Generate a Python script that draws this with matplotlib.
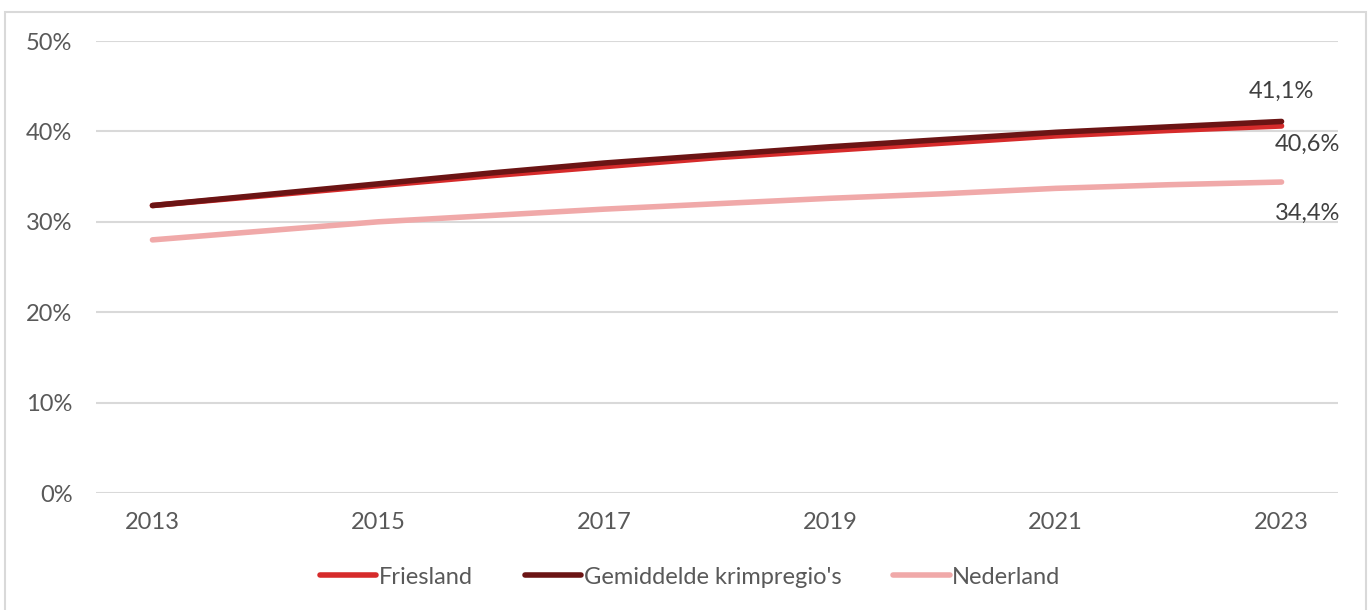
import matplotlib.pyplot as plt
from matplotlib.patches import Rectangle

# Data
jaren = list(range(2013, 2024))
friesland = [31.8, 32.9, 34.0, 35.1, 36.1, 37.1, 37.9, 38.7, 39.5, 40.1, 40.6]
krimp = [31.8, 33.0, 34.2, 35.4, 36.5, 37.4, 38.3, 39.1, 39.9, 40.5, 41.1]
nederland = [28.0, 29.0, 30.0, 30.7, 31.4, 32.0, 32.6, 33.1, 33.7, 34.1, 34.4]
reeksen = ["Friesland", "Gemiddelde krimpregio's", "Nederland"]
kleuren = ["#D62B2B", "#6B1414", "#F0A9A9"]

plt.rcParams['font.family'] = ['Lato', 'DejaVu Sans']
grijs = "#595959"
fs = 17

fig = plt.figure(figsize=(13.7, 6.1), dpi=100)
ax = fig.add_axes([96/1370, 1 - 493/610, (1338 - 96)/1370, (493 - 41)/610])

for naam, waarden, kleur in zip(reeksen, [friesland, krimp, nederland], kleuren):
    ax.plot(jaren, [v / 100 for v in waarden], color=kleur, lw=4,
            solid_capstyle="round", label=naam, zorder=3)

ax.set_xlim(2012.5, 2023.5)
ax.set_ylim(0, 0.5)
ax.set_yticks([0, 0.1, 0.2, 0.3, 0.4, 0.5])
ax.set_yticklabels(["0%", "10%", "20%", "30%", "40%", "50%"])
ax.set_xticks(jaren[::2])
ax.grid(axis="y", color="#D9D9D9", lw=1.5)
ax.set_axisbelow(True)
for s in ax.spines.values():
    s.set_visible(False)
ax.tick_params(length=0, labelsize=fs, colors=grijs)
ax.tick_params(axis="y", pad=17)
ax.tick_params(axis="x", pad=14)

# Labels bij het laatste jaar
ax.annotate("41,1%", (jaren[-1], krimp[-1] / 100), xytext=(0, 14),
            textcoords="offset points", ha="center", va="bottom",
            fontsize=fs, color="#404040")
ax.annotate("40,6%", (jaren[-1], friesland[-1] / 100), xytext=(-5, -6),
            textcoords="offset points", ha="left", va="top",
            fontsize=fs, color="#404040")
ax.annotate("34,4%", (jaren[-1], nederland[-1] / 100), xytext=(-5, -15),
            textcoords="offset points", ha="left", va="top",
            fontsize=fs, color="#404040")

leg = fig.legend(loc="center", bbox_to_anchor=(690/1370, 1 - 577/610), ncol=3,
                 frameon=False, fontsize=fs, handlelength=2.4, handletextpad=0.1,
                 columnspacing=2.2)
for t in leg.get_texts():
    t.set_color(grijs)

fig.patches.append(Rectangle((5/1370, -0.01), (1366 - 5)/1370, 1 - 12/610 + 0.01,
                             transform=fig.transFigure, fill=False,
                             edgecolor="#D9D9D9", lw=1.5))

fig.savefig("out.png", dpi=100)
